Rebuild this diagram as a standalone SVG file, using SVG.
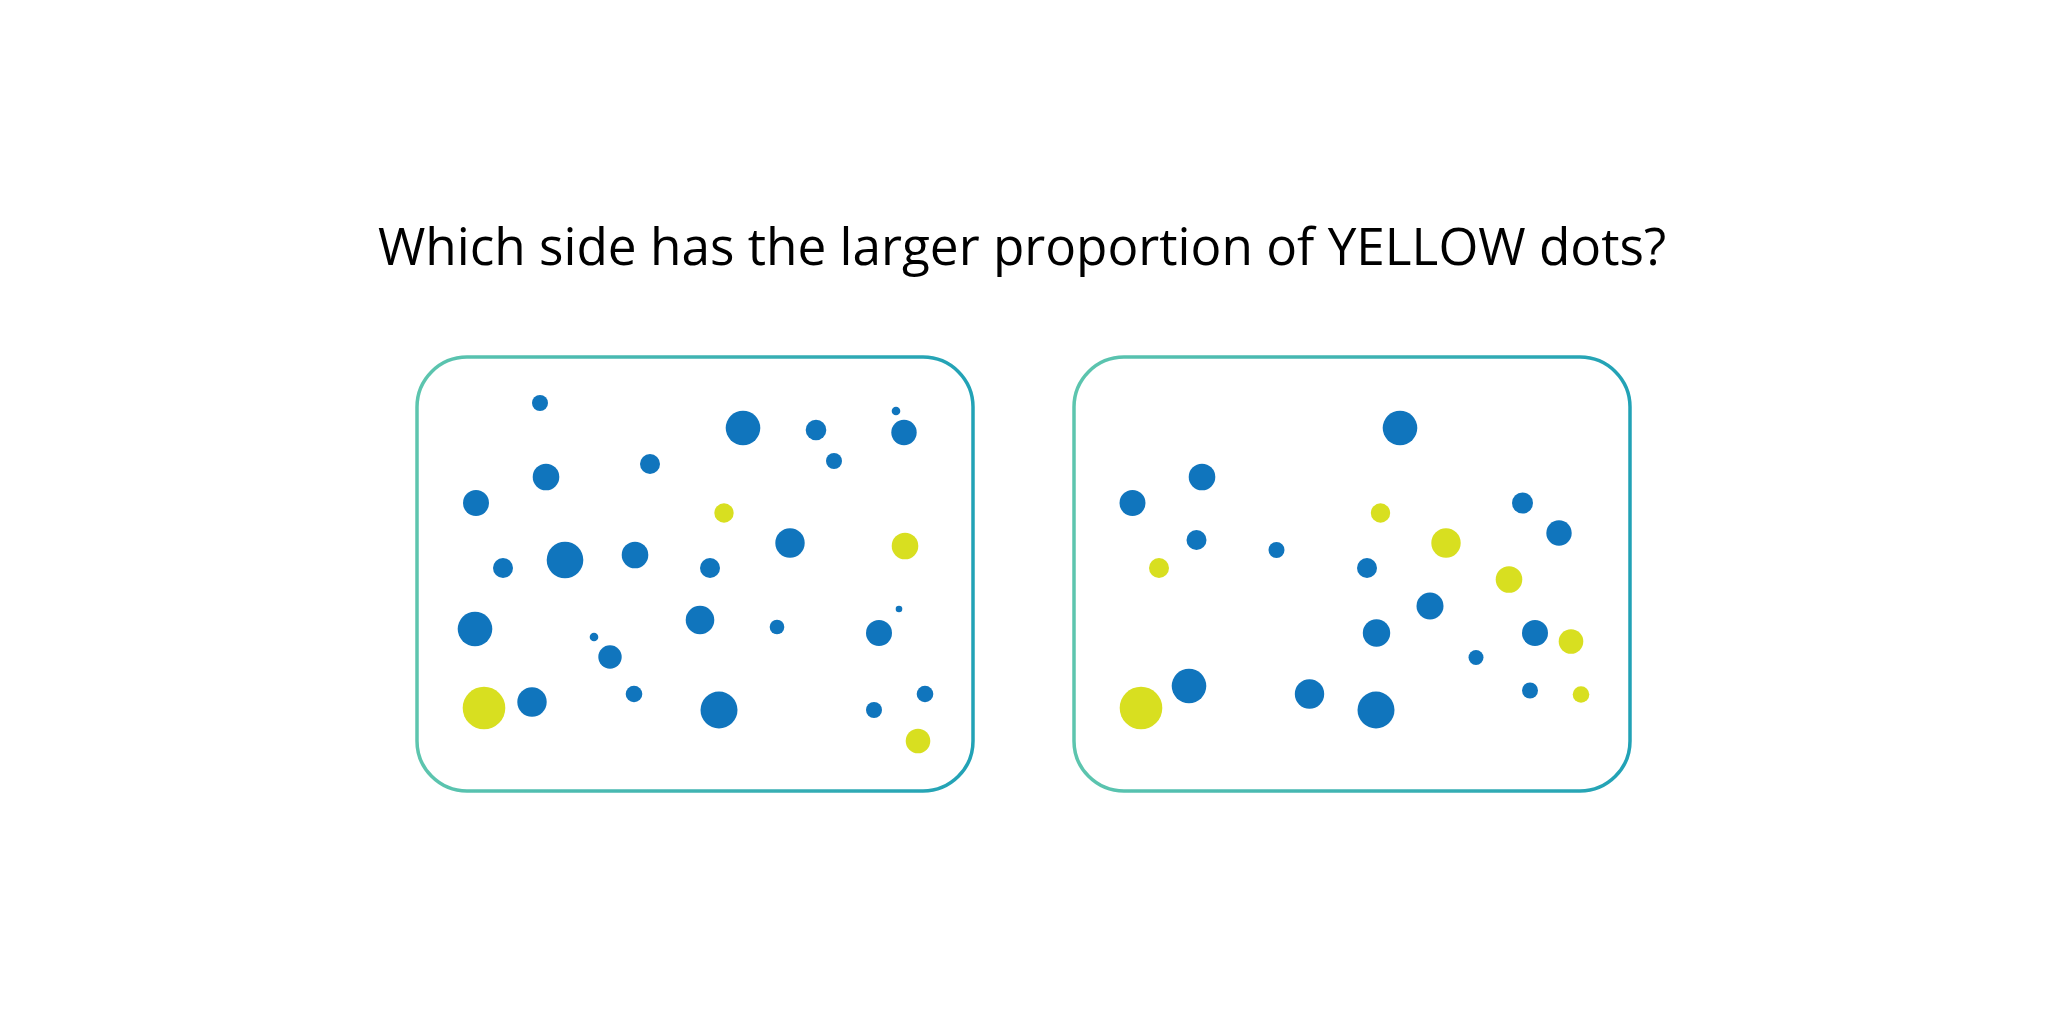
<svg xmlns="http://www.w3.org/2000/svg" width="2048" height="1024" viewBox="0 0 2048 1024">
<defs>
<linearGradient id="frameGrad" x1="0" y1="0" x2="1" y2="0">
<stop offset="0" stop-color="#5dc5ae"/>
<stop offset="1" stop-color="#22a2b6"/>
</linearGradient>
<style>
.frame{fill:none;stroke:url(#frameGrad);stroke-width:3.5}
.b{fill:#1075bd}
.y{fill:#d8df20}
.title{font-family:"Open Sans","Liberation Sans",sans-serif;font-size:51.3px;fill:#000}
</style>
</defs>
<rect width="2048" height="1024" fill="#fff"/>
<text class="title" x="1022" y="265" text-anchor="middle">Which side has the larger proportion of YELLOW dots?</text>
<g id="left-panel">
<rect class="frame" x="417" y="357" width="556" height="434" rx="50" ry="50"/>
<circle class="b" cx="540" cy="403" r="8"/>
<circle class="b" cx="743" cy="428" r="17.3"/>
<circle class="b" cx="650" cy="464" r="10"/>
<circle class="b" cx="546" cy="477" r="13.3"/>
<circle class="b" cx="476" cy="503" r="13"/>
<circle class="y" cx="724" cy="513" r="9.7"/>
<circle class="b" cx="503" cy="568" r="10"/>
<circle class="b" cx="565" cy="560" r="18.3"/>
<circle class="b" cx="635" cy="555" r="13.3"/>
<circle class="b" cx="710" cy="568" r="10"/>
<circle class="b" cx="816" cy="430" r="10.3"/>
<circle class="b" cx="896" cy="411" r="4.3"/>
<circle class="b" cx="904" cy="432.5" r="12.7"/>
<circle class="b" cx="834" cy="461" r="8"/>
<circle class="b" cx="790" cy="543" r="14.7"/>
<circle class="y" cx="905" cy="546" r="13.3"/>
<circle class="b" cx="475" cy="629" r="17.3"/>
<circle class="b" cx="594" cy="637" r="4.3"/>
<circle class="b" cx="610" cy="657" r="11.7"/>
<circle class="b" cx="700" cy="620" r="14.3"/>
<circle class="b" cx="777" cy="627" r="7.3"/>
<circle class="b" cx="899" cy="609" r="3.3"/>
<circle class="b" cx="879" cy="633" r="13"/>
<circle class="y" cx="484" cy="708" r="21.3"/>
<circle class="b" cx="532" cy="702" r="14.7"/>
<circle class="b" cx="634" cy="694" r="8.3"/>
<circle class="b" cx="719" cy="710" r="18.5"/>
<circle class="b" cx="925" cy="694" r="8.3"/>
<circle class="b" cx="874" cy="710" r="8"/>
<circle class="y" cx="918" cy="741" r="12.3"/>
</g>
<g id="right-panel">
<rect class="frame" x="1074" y="357" width="556" height="434" rx="50" ry="50"/>
<circle class="b" cx="1400" cy="428" r="17.3"/>
<circle class="b" cx="1202" cy="477" r="13.3"/>
<circle class="b" cx="1132.5" cy="503" r="13"/>
<circle class="y" cx="1380.5" cy="513" r="9.7"/>
<circle class="b" cx="1522.5" cy="503" r="10.5"/>
<circle class="b" cx="1196.5" cy="540" r="10"/>
<circle class="b" cx="1276.5" cy="550" r="8"/>
<circle class="y" cx="1446" cy="543" r="14.7"/>
<circle class="b" cx="1559" cy="533" r="12.7"/>
<circle class="y" cx="1159" cy="568" r="10"/>
<circle class="b" cx="1367" cy="568" r="10"/>
<circle class="y" cx="1509" cy="579.5" r="13.3"/>
<circle class="b" cx="1430" cy="606" r="13.5"/>
<circle class="b" cx="1376.5" cy="633" r="13.7"/>
<circle class="b" cx="1535" cy="633" r="13"/>
<circle class="y" cx="1571" cy="641.5" r="12.3"/>
<circle class="b" cx="1476" cy="657.5" r="7.5"/>
<circle class="y" cx="1141" cy="708" r="21.3"/>
<circle class="b" cx="1189" cy="686" r="17.3"/>
<circle class="b" cx="1309.5" cy="694" r="14.7"/>
<circle class="b" cx="1376" cy="710" r="18.5"/>
<circle class="b" cx="1530" cy="690.5" r="8"/>
<circle class="y" cx="1581" cy="694.5" r="8.3"/>
</g>
</svg>
